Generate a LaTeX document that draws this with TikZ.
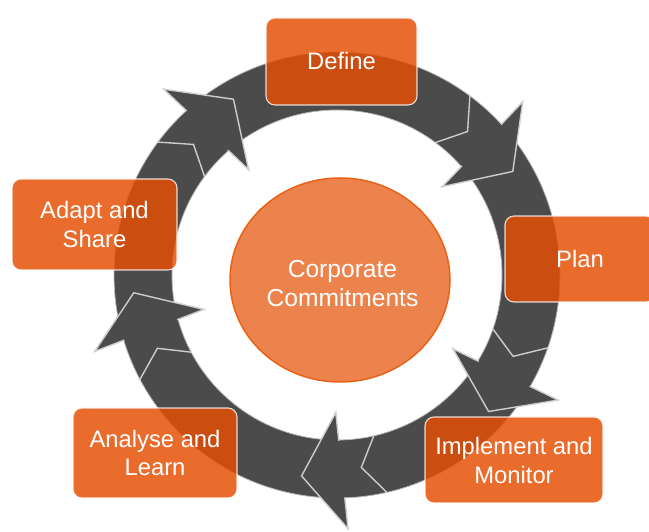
\documentclass[tikz,border=0pt]{standalone}
\usepackage{fontspec}
\setmainfont{Liberation Sans}
\usetikzlibrary{calc,shapes.geometric}
\definecolor{ringgray}{RGB}{75,75,75}
\definecolor{edgegray}{RGB}{205,205,205}
\definecolor{boxorange}{RGB}{229,78,3}
\definecolor{circfill}{RGB}{237,131,76}
\definecolor{circline}{RGB}{232,97,22}
\begin{document}
\begin{tikzpicture}[x=1pt,y=1pt,
  stepbox/.style={rounded corners=9pt, fill=boxorange, fill opacity=0.83,
    draw=white, draw opacity=0.8, line width=1.1pt, text=white, text opacity=1,
    align=center, font=\fontsize{23.8}{29}\selectfont, inner sep=0pt},
  hl/.style={draw=edgegray, line width=1.4pt, line join=miter},
  ringedge/.style={draw=gray!55, line width=0.8pt}
]
\useasboundingbox (0,0) rectangle (649,532);
\coordinate (C) at (337,257);
% ring
\fill[ringgray, even odd rule] (C) circle[radius=223] (C) circle[radius=165];
\draw[ringedge] (C) circle[radius=223];
\draw[ringedge] (C) circle[radius=165];
% arrow heads and tail notches
\foreach \a/\n in {131.5/A,41.5/B,-31/D,-89/E,196/F}{
  \coordinate (ob\n) at ($(C)+(\a+1.5:254)$);
  \coordinate (ib\n) at ($(C)+(\a-1.5:137.5)$);
  \coordinate (tp\n) at ($(C)+(\a-11:204)$);
  \coordinate (ro\n) at ($(ob\n)!0.27!(ib\n)$);
  \coordinate (ri\n) at ($(ob\n)!0.755!(ib\n)$);
  \coordinate (no\n) at ($(C)+(\a+12:223.5)$);
  \coordinate (nm\n) at ($(C)+(\a+6.2:194)$);
  \coordinate (ni\n) at ($(C)+(\a+12:164.5)$);
  \draw[hl] (ni\n) -- (nm\n) -- (no\n);
  \fill[ringgray] (ro\n) -- (ob\n) -- (tp\n) -- (ib\n) -- (ri\n) -- cycle;
  \draw[hl] (ro\n) -- (ob\n) -- (tp\n) -- (ib\n) -- (ri\n);
}
% centre
\node[ellipse, minimum width=220pt, minimum height=204pt, inner sep=0pt,
  fill=circfill, draw=circline, line width=1.5pt] (core) at (340,252) {};
\node[text=white, align=center, font=\fontsize{24.6}{29}\selectfont]
  (coretext) at (342.5,248) {Corporate\\Commitments};
% boxes
\node[stepbox, minimum width=151pt, minimum height=87pt] (define) at (341.5,470.5) {Define};
\node[stepbox, minimum width=150pt, minimum height=86pt] (plan) at (580,273) {Plan};
\node[stepbox, minimum width=178pt, minimum height=86pt] (impl) at (514,72) {Implement and\\Monitor};
\node[stepbox, minimum width=164pt, minimum height=90pt] (analyse) at (155,79) {Analyse and\\Learn};
\node[stepbox, minimum width=165pt, minimum height=91pt] (adapt) at (94.5,307.5) {Adapt and\\Share};
\end{tikzpicture}
\end{document}
